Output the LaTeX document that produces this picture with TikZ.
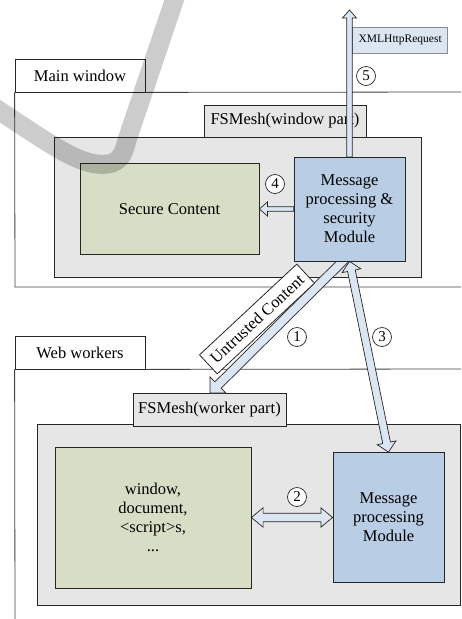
\documentclass[tikz,border=0pt]{standalone}
\usepackage{fontspec}
\setmainfont{Liberation Serif}
\usetikzlibrary{calc}
\definecolor{greybox}{HTML}{E6E6E6}
\definecolor{olivebox}{HTML}{D8DEC6}
\definecolor{bluebox}{HTML}{B9CDE5}
\definecolor{paleblue}{HTML}{DCE6F2}
\definecolor{edge}{HTML}{262626}
\newcommand{\txt}{\fontsize{16.5}{19}\selectfont}
% single block arrow: from, to, shaft half width, head half width, head length
\newcommand{\sarrow}[5]{%
  \coordinate (hb) at ($(#2)!#5!(#1)$);
  \filldraw[barrow] ($(#1)!#3!90:(#2)$) -- ($(hb)!#3!90:(#2)$) -- ($(hb)!#4!90:(#2)$) -- (#2)
    -- ($(hb)!#4!-90:(#2)$) -- ($(hb)!#3!-90:(#2)$) -- ($(#1)!#3!-90:(#2)$) -- cycle;}
% double block arrow
\newcommand{\darrow}[5]{%
  \coordinate (hb) at ($(#2)!#5!(#1)$);
  \coordinate (ha) at ($(#1)!#5!(#2)$);
  \filldraw[barrow] (#1) -- ($(ha)!#4!-90:(#2)$) -- ($(ha)!#3!-90:(#2)$) -- ($(hb)!#3!-90:(#2)$)
    -- ($(hb)!#4!-90:(#2)$) -- (#2) -- ($(hb)!#4!90:(#2)$) -- ($(hb)!#3!90:(#2)$)
    -- ($(ha)!#3!90:(#2)$) -- ($(ha)!#4!90:(#2)$) -- cycle;}
\begin{document}
\begin{tikzpicture}[x=1pt,y=-1pt,
  box/.style={draw=edge, line width=0.8pt, inner sep=0pt, align=center, font=\txt},
  tabbox/.style={box, fill=white},
  greyarea/.style={box, fill=greybox},
  contentbox/.style={box, fill=olivebox},
  modulebox/.style={box, fill=bluebox},
  smallbox/.style={draw=black!45, line width=0.6pt, fill=paleblue, inner sep=0pt, font=\fontsize{11.5}{13}\selectfont},
  stepnum/.style={draw=edge, line width=0.7pt, circle, fill=white, minimum size=19pt, inner sep=0pt, font=\fontsize{15}{15}\selectfont},
  barrow/.style={draw=edge, line width=0.7pt, fill=paleblue, line join=miter},
  frame/.style={draw=black!75, line width=0.8pt}]
\useasboundingbox (0,0) rectangle (461,619);
\clip (0,0) rectangle (461,619);

% Main window frame
\node[tabbox, minimum width=130pt, minimum height=33pt] (mwtab) at (80,75.5) {Main window};
\draw[frame] (mwtab.south east) -- (465,92);
\draw[frame] (mwtab.south west) -- (15,287) -- (465,287);

% Web workers frame
\node[tabbox, minimum width=130pt, minimum height=33pt] (wwtab) at (80,352.5) {Web workers};
\draw[frame] (wwtab.south east) -- (465,369);
\draw[frame] (wwtab.south west) -- (15,625);

% grey areas and FSMesh tabs
\node[greyarea, minimum width=367pt, minimum height=140pt] (wgrey) at (237.5,207) {};
\node[greyarea, minimum width=162pt, minimum height=32pt] (wtab) at (285,121) {FSMesh(window part)};
\node[greyarea, minimum width=423pt, minimum height=181pt] (kgrey) at (248.5,514.5) {};
\node[greyarea, minimum width=153pt, minimum height=33pt] (ktab) at (209.5,409.5) {FSMesh(worker part)};

% XMLHttpRequest
\node[smallbox, minimum width=95pt, minimum height=26pt] (xml) at (400.2,40) {XMLHttpRequest};

% coordinates for free arrow ends
\coordinate (top5) at (349.5,10);
\coordinate (a1s) at (348,256);
\coordinate (a1e) at (210,393);

% arrows under the boxes
\sarrow{a1s}{a1e}{4.5pt}{11.3pt}{11.3pt}
\sarrow{349.5,157}{top5}{2.7pt}{7pt}{8pt}

% content boxes
\node[contentbox, minimum width=179pt, minimum height=91pt] (sc) at (169.5,209) {Secure Content};
\node[modulebox, minimum width=111pt, minimum height=104pt] (wm) at (349.5,209) {Message\\processing \&\\security\\Module};
\node[contentbox, minimum width=196pt, minimum height=141pt] (wc) at (153,517.5) {window,\\document,\\<script>s,\\...};
\node[modulebox, minimum width=111pt, minimum height=130pt] (km) at (388.5,517.5) {Message\\processing\\Module};

% arrows between boxes
\sarrow{wm.west}{sc.east}{2.3pt}{7pt}{8pt}
\darrow{wc.east}{km.west}{4.2pt}{9.7pt}{11.7pt}
\darrow{wm.south}{km.north}{3.9pt}{9.5pt}{9.5pt}

% label on arrow 1
\node[box, fill=white, rotate=43, minimum width=133pt, minimum height=26pt] (untr) at (257,319) {Untrusted Content};

% step numbers
\node[stepnum] (n1) at (297,337) {1};
\node[stepnum] (n2) at (297,497) {2};
\node[stepnum] (n3) at (382,337) {3};
\node[stepnum] (n4) at (275,184) {4};
\node[stepnum] (n5) at (366,76) {5};

% watermark swoosh
\draw[line width=19pt, draw=black, draw opacity=0.2, line cap=butt, line join=round]
  (-5,108) .. controls (45,140) and (80,168) .. (108,164) .. controls (121,162) and (124,152) .. (127,140) -- (176,-5);
\end{tikzpicture}
\end{document}
